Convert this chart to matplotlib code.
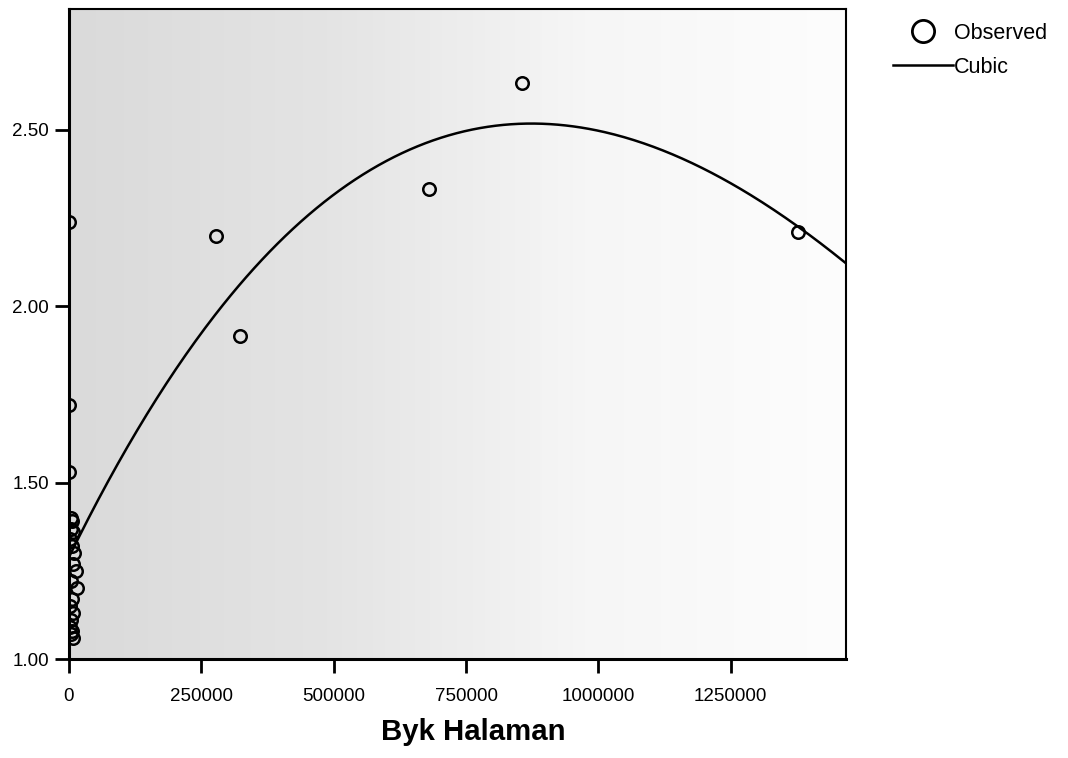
"""Scatter of observed values against Byk Halaman with a cubic fit curve."""

import numpy as np
import matplotlib
matplotlib.use("Agg")
import matplotlib.pyplot as plt
from matplotlib.colors import LinearSegmentedColormap

plt.rcParams["font.family"] = ["Liberation Sans", "DejaVu Sans"]

# --- observed cases ---
byk_halaman = [
    3000, 6000, 4000, 8000, 2000, 5000, 9500, 7000, 12600, 3000,
    14500, 6000, 2500, 8000, 4500, 1500, 5000, 3500, 7000,
    500, 500, 500,
    278000, 323400, 680800, 855000, 1377000,
]
observed = [
    1.40, 1.39, 1.37, 1.36, 1.34, 1.32, 1.30, 1.27, 1.25, 1.22,
    1.20, 1.17, 1.15, 1.13, 1.11, 1.09, 1.08, 1.07, 1.06,
    2.24, 1.72, 1.53,
    2.20, 1.915, 2.334, 2.632, 2.21,
]

# cubic model coefficients, x in millions of pages: b0 + b1*x + b2*x^2 + b3*x^3
cubic_coef = [1.289, 3.0678, -2.1912, 0.3322]

x_ticks = [0, 250000, 500000, 750000, 1000000, 1250000]
y_ticks = [1.00, 1.50, 2.00, 2.50]

fig = plt.figure(figsize=(10.68, 7.58), dpi=100)
ax = fig.add_axes([0.0646, 0.1306, 0.7275, 0.8575])

ax.set_xlim(0, 1467500)
ax.set_ylim(1.0, 2.843)

# light grey wash fading to white toward the right
shade = LinearSegmentedColormap.from_list("wash", ["#dadada", "#e4e4e4", "#f6f6f6", "#fdfdfd"])
grad = np.linspace(0, 1, 256).reshape(1, -1)
ax.imshow(grad, aspect="auto", cmap=shade, extent=[0, 1, 0, 1],
          transform=ax.transAxes, zorder=0)

xs = np.linspace(0, 1467500, 400)
xm = xs / 1e6
b0, b1, b2, b3 = cubic_coef
ys = b0 + b1 * xm + b2 * xm ** 2 + b3 * xm ** 3

ax.plot(byk_halaman, observed, linestyle="none", marker="o", markersize=9,
        markerfacecolor="none", markeredgecolor="black", markeredgewidth=1.8,
        label="Observed", zorder=3)
ax.plot(xs, ys, color="black", linewidth=1.8, label="Cubic", zorder=2)

ax.set_xticks(x_ticks)
ax.set_xticklabels([str(t) for t in x_ticks])
ax.set_yticks(y_ticks)
ax.set_yticklabels([f"{t:.2f}" for t in y_ticks])
ax.tick_params(axis="both", direction="out", length=10, width=2, labelsize=13.5,
               colors="black")
ax.tick_params(axis="x", pad=11)
ax.tick_params(axis="y", pad=4.5)

for side in ["left", "bottom"]:
    ax.spines[side].set_linewidth(2.2)
for side in ["top", "right"]:
    ax.spines[side].set_linewidth(1.5)

ax.set_xlabel("Byk Halaman", fontsize=21.2, fontweight="bold")
ax.xaxis.set_label_coords(0.52, -0.09)

leg = ax.legend(loc="upper left", bbox_to_anchor=(1.0605, 0.979), frameon=False,
                fontsize=15.5, handlelength=2.8, handletextpad=0.05,
                labelspacing=0.62, borderaxespad=0, borderpad=0)
leg.legend_handles[0].set_markersize(16)
leg.legend_handles[0].set_markeredgewidth(2)

fig.savefig("out.png", dpi=100)
plt.close(fig)
